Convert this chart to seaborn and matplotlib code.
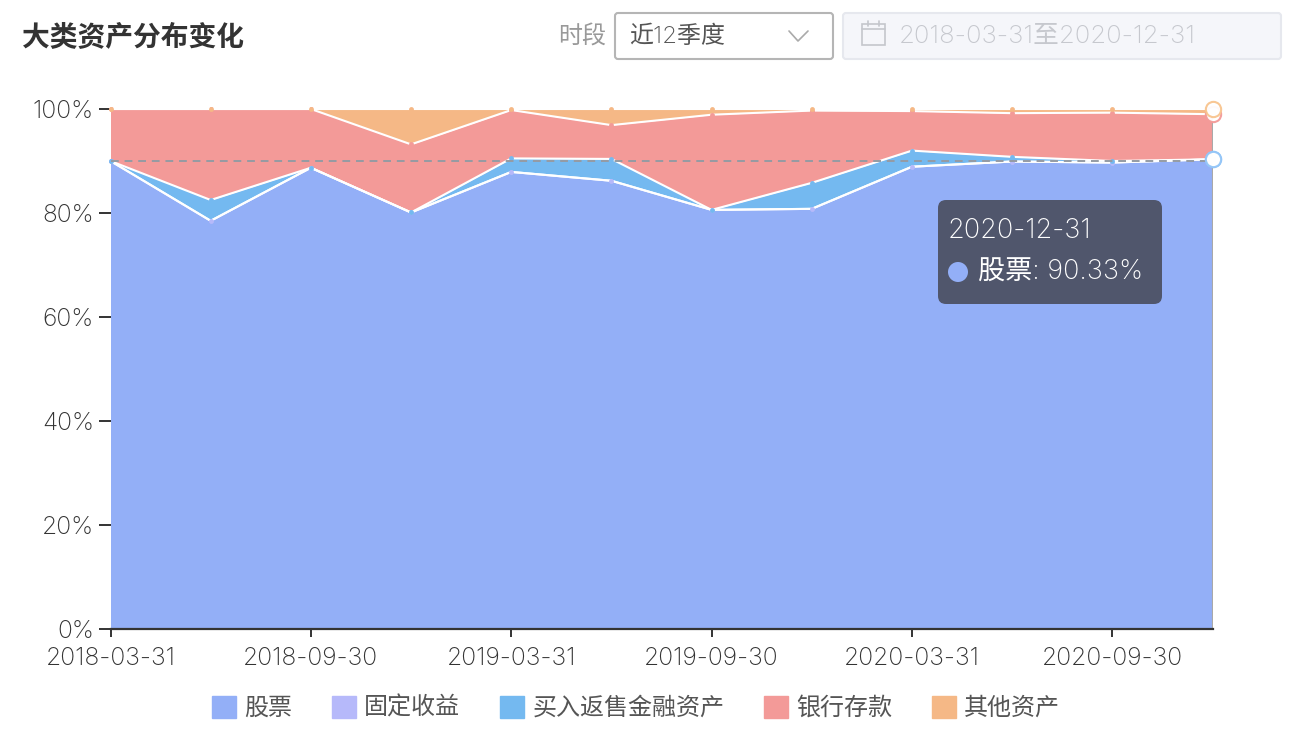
import numpy as np
import pandas as pd
import seaborn as sns
import matplotlib.pyplot as plt
from matplotlib.patches import FancyBboxPatch, Patch, Rectangle, Circle

dates = ['2018-03-31', '2018-06-30', '2018-09-30', '2018-12-31', '2019-03-31', '2019-06-30',
         '2019-09-30', '2019-12-31', '2020-03-31', '2020-06-30', '2020-09-30', '2020-12-31']
stock = [90.0, 78.5, 88.7, 80.1, 87.9, 86.2, 80.6, 80.8, 88.9, 89.9, 89.7, 90.33]
fixed = [0, 0, 0, 0, 0, 0, 0, 0, 0, 0, 0, 0]
repo = [0.0, 4.0, 0.0, 0.0, 2.6, 4.2, 0.0, 5.0, 3.1, 0.9, 0.3, 0.0]
bank = [10.0, 17.5, 11.3, 13.1, 9.3, 6.5, 18.3, 13.9, 7.6, 8.4, 9.3, 8.67]
other = [0.0, 0.0, 0.0, 6.8, 0.2, 3.1, 1.1, 0.3, 0.4, 0.8, 0.7, 1.0]

names = ['股票', '固定收益', '买入返售金融资产', '银行存款', '其他资产']
colors = ['#93aff7', '#b6b9fa', '#74b9f0', '#f39a98', '#f5b886']
x_labels = dates[::2]
y_ticks = [0, 20, 40, 60, 80, 100]

W, H = 1302, 742
sns.set_theme(style='white')
plt.rcParams['font.family'] = ['Inter', 'Noto Sans CJK SC', 'DejaVu Sans']
plt.rcParams['font.weight'] = 'light'

fig = plt.figure(figsize=(W / 100, H / 100), dpi=100)
ax = fig.add_axes([110.5 / W, 1 - 629 / H, (1212.5 - 110.5) / W, 520 / H])

df = pd.DataFrame({'date': dates, '股票': stock, '固定收益': fixed, '买入返售金融资产': repo,
                   '银行存款': bank, '其他资产': other})
pos = np.arange(len(df))
tops = df[names].cumsum(axis=1)

# stacked areas
ax.stackplot(pos, [df[n] for n in names], colors=colors, linewidth=0)

# white outline and small dots of each series
for n, c in zip(names, colors):
    long = pd.DataFrame({'x': pos, 'y': tops[n]})
    sns.lineplot(data=long, x='x', y='y', color='white', linewidth=1.5, ax=ax, clip_on=False,
                 marker='o', markersize=3.5, markerfacecolor=c, markeredgewidth=0, zorder=3,
                 errorbar=None)

# hover guide lines
ax.axhline(90, color='#959ba3', linestyle=(0, (4, 3)), linewidth=1.4, zorder=4)
ax.axvline(pos[-1], color='#a9a9a9', linewidth=1.5, zorder=4)
for n, c in zip(names, ['#93c5f7', None, '#93c5f7', '#f39a98', '#f8c48e']):
    if c is not None:
        ax.plot(pos[-1], tops[n].iloc[-1], 'o', ms=11, mfc='white', mec=c, mew=1.5, clip_on=False, zorder=5,
                alpha=0.95)

ax.set_xlim(0, pos[-1])
ax.set_ylim(0, 100)
ax.set_xticks(pos[::2], x_labels)
ax.set_yticks(y_ticks, [f'{v}%' for v in y_ticks])
ax.set_xlabel('')
ax.set_ylabel('')
ax.tick_params(axis='x', bottom=True, length=6, width=1.4, color='#333333', labelsize=17.8,
               labelcolor='#333333', pad=7)
ax.tick_params(axis='y', left=True, length=9, width=1.4, color='#333333', labelsize=17.8,
               labelcolor='#333333', pad=3)
sns.despine(ax=ax, left=True)
ax.spines['bottom'].set_color('#333333')
ax.spines['bottom'].set_linewidth(1.6)
ax.spines['bottom'].set_zorder(6)

handles = [Patch(color=c, label=n) for n, c in zip(names, colors)]
leg = fig.legend(handles=handles, loc='center', bbox_to_anchor=(636 / W, 1 - 708 / H), ncol=5, frameon=False,
                 fontsize=17.3, handlelength=1, handleheight=1, handletextpad=0.35, columnspacing=1.65,
                 labelcolor='#555555')

# overlay in pixel coords for title, filter controls and tooltip
ui = fig.add_axes([0, 0, 1, 1], facecolor='none')
ui.set_xlim(0, W)
ui.set_ylim(H, 0)
ui.axis('off')

ui.text(22, 38, '大类资产分布变化', fontsize=20, fontweight='bold', color='#333333', va='center')
ui.text(558, 37, '时段', fontsize=17.3, color='#999999', va='center')

ui.add_patch(FancyBboxPatch((615, 13), 218, 46, boxstyle='round,pad=0,rounding_size=3', fc='white',
                            ec='#b5b5b5', lw=1.5))
ui.text(629, 37, '近12季度', fontsize=17.3, color='#555555', va='center')
ui.plot([789, 798, 808], [31, 41, 31], color='#aaaaaa', lw=1.2)

ui.add_patch(FancyBboxPatch((843, 13), 438, 46, boxstyle='round,pad=0,rounding_size=3', fc='#f5f6fa',
                            ec='#e6e8ee', lw=1.5))
ui.add_patch(Rectangle((862, 24), 23, 21, fc='none', ec='#c4c6cc', lw=1.2))
ui.plot([862, 885], [29, 29], color='#c4c6cc', lw=1.2)
ui.plot([868, 868], [21, 26], color='#c4c6cc', lw=1.2)
ui.plot([879, 879], [21, 26], color='#c4c6cc', lw=1.2)
ui.text(899, 37, '2018-03-31至2020-12-31', fontsize=18.5, color='#c6c8ce', va='center')

ui.add_patch(FancyBboxPatch((938, 200), 224, 104, boxstyle='round,pad=0,rounding_size=8', fc='#50566c',
                            ec='none', zorder=8))
ui.text(948, 231, dates[-1], fontsize=19.5, color='white', va='center', zorder=9)
ui.add_patch(Circle((958, 272), 10, fc=colors[0], ec='none', zorder=9))
ui.text(978, 273, f'{names[0]}: {stock[-1]:.2f}%', fontsize=19.5, color='white', va='center', zorder=9)

fig.savefig('out.png', dpi=100)
